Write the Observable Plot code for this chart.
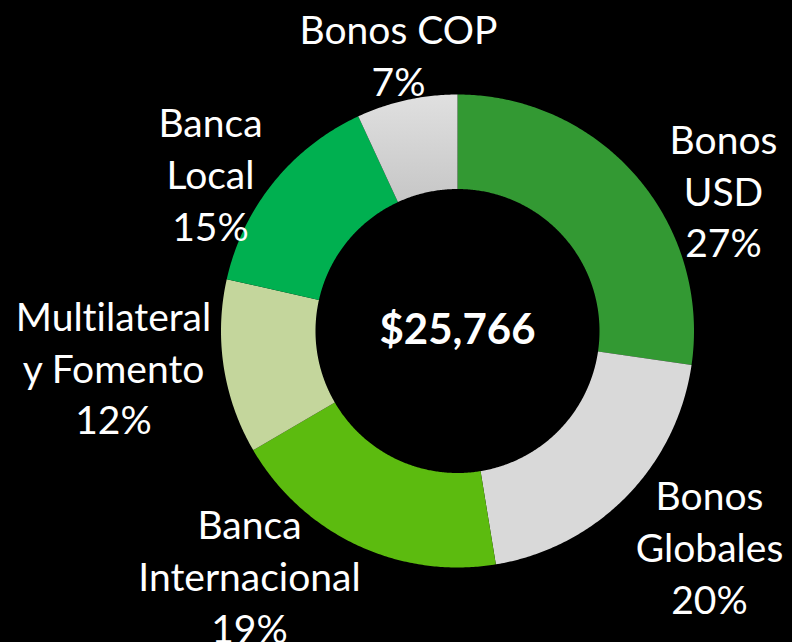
<!DOCTYPE html>
<html>
<head>
<meta charset="utf-8">
<script src="https://cdn.jsdelivr.net/npm/d3@7"></script>
<script src="https://cdn.jsdelivr.net/npm/@observablehq/plot@0.6"></script>
<style>
  html, body { margin: 0; padding: 0; background: #000; }
  #chart { width: 792px; height: 642px; }
  #chart text { font-variant-ligatures: none; font-feature-settings: "liga" 0; }
</style>
</head>
<body>
<div id="chart"></div>
<script>
// ---- data (clockwise from 12 o'clock) ----
const categories = ["Bonos USD", "Bonos Globales", "Banca Internacional", "Multilateral y Fomento", "Banca Local", "Bonos COP"];
const labelText = ["Bonos\nUSD", "Bonos\nGlobales", "Banca\nInternacional", "Multilateral\ny Fomento", "Banca\nLocal", "Bonos COP"];
const amounts = [7035, 5180, 4945, 3070, 3760, 1776]; // estimated, total 25,766
const pctLabels = ["27%", "20%", "19%", "12%", "15%", "7%"];
const totalLabel = "$25,766";

// ---- styles / layout ----
const colors = ["#339933", "#d9d9d9", "#5cbb0f", "#c4d69c", "#00b050", "url(#copGrad)"];
const W = 792, H = 642;
const cx = 457, cy = 330.5, rOuter = 236.5, rInner = 142;
const labelPos = [[723, 188.5], [709, 545], [249, 574], [113, 365.5], [210, 172], [398, 53]];

// ---- slice geometry from d3.pie ----
const pie = d3.pie().sort(null).value(d => d)(amounts);
const pts = [];
pie.forEach((p, i) => {
  const n = Math.max(8, Math.ceil((p.endAngle - p.startAngle) / (Math.PI / 360)));
  const ring = [];
  for (let k = 0; k <= n; k++) {
    const a = p.startAngle + (p.endAngle - p.startAngle) * k / n;
    ring.push([cx + rOuter * Math.sin(a), cy - rOuter * Math.cos(a)]);
  }
  for (let k = n; k >= 0; k--) {
    const a = p.startAngle + (p.endAngle - p.startAngle) * k / n;
    ring.push([cx + rInner * Math.sin(a), cy - rInner * Math.cos(a)]);
  }
  ring.forEach(([x, y]) => pts.push({cat: categories[i], fill: colors[i], x, y}));
});

const labels = categories.map((c, i) => ({
  text: labelText[i] + "\n" + pctLabels[i],
  x: labelPos[i][0], y: labelPos[i][1]
}));

const defs = () => {
  const ns = "http://www.w3.org/2000/svg";
  const g = document.createElementNS(ns, "defs");
  g.innerHTML = '<linearGradient id="copGrad" x1="0" y1="0" x2="0" y2="1">' +
    '<stop offset="0" stop-color="#e0e0e0"/><stop offset="1" stop-color="#c6c6c6"/></linearGradient>';
  return g;
};

const chart = Plot.plot({
  width: W, height: H, margin: 0,
  style: {background: "#000", overflow: "visible"},
  x: {domain: [0, W], range: [0, W], axis: null},
  y: {domain: [0, H], range: [0, H], axis: null},
  color: {type: "identity"},
  marks: [
    defs,
    Plot.line(pts, {x: "x", y: "y", z: "cat", fill: "fill", stroke: null, curve: "linear-closed"}),
    Plot.text(labels, {x: "x", y: "y", text: "text", fill: "#fff", fontSize: 39,
      fontFamily: "Lato", lineAnchor: "middle", lineHeight: 1.33, textAnchor: "middle"}),
    Plot.text([totalLabel], {x: () => cx, y: () => cy, text: d => d, fill: "#fff",
      fontSize: 42, fontWeight: "bold", fontFamily: "Lato", textAnchor: "middle", lineAnchor: "middle"})
  ]
});
document.getElementById("chart").appendChild(chart);
</script>
</body>
</html>
